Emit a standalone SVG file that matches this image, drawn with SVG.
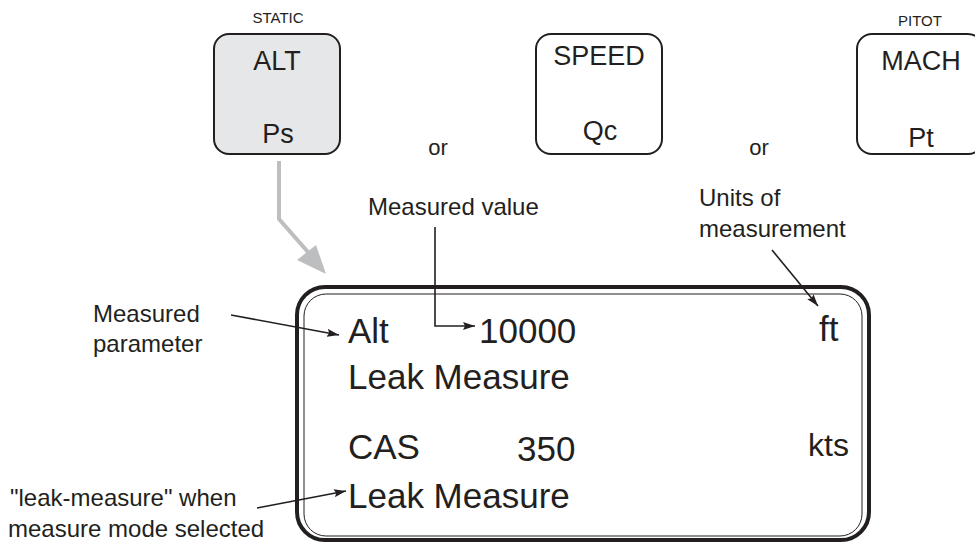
<svg xmlns="http://www.w3.org/2000/svg" width="975" height="542" viewBox="0 0 975 542">
<style>
text{font-family:"Liberation Sans",Arial,sans-serif;fill:#231f20}
.key{fill:#fff;stroke:#231f20;stroke-width:2}
.keyg{fill:#e6e7e8;stroke:#231f20;stroke-width:2}
.kt{font-size:27px;text-anchor:middle}
.sm{font-size:15px;text-anchor:middle}
.or{font-size:22px;text-anchor:middle}
.lbl{font-size:24px}
.disp{font-size:35px}
.con{fill:none;stroke:#231f20;stroke-width:1.6}
</style>
<defs>
<marker id="ah" viewBox="0 0 12 8" refX="12" refY="4" markerWidth="12" markerHeight="8" markerUnits="userSpaceOnUse" orient="auto">
<path d="M0,0 L12,4 L0,8 L2,4 z" fill="#231f20"/>
</marker>
</defs>
<rect width="975" height="542" fill="#fff"/>
<g id="key-alt">
<text class="sm" x="278" y="23">STATIC</text>
<rect class="keyg" x="214" y="34" width="126" height="120" rx="15"/>
<text class="kt" x="277" y="70">ALT</text>
<text class="kt" x="278" y="143">Ps</text>
</g>
<g id="key-speed">
<rect class="key" x="536" y="34" width="126" height="120" rx="15"/>
<text class="kt" x="599" y="65">SPEED</text>
<text class="kt" x="600" y="140">Qc</text>
</g>
<g id="key-mach">
<text class="sm" x="920" y="26">PITOT</text>
<rect class="key" x="857" y="34" width="126" height="120" rx="15"/>
<text class="kt" x="921" y="70">MACH</text>
<text class="kt" x="921" y="147">Pt</text>
</g>
<text class="or" x="438" y="155">or</text>
<text class="or" x="759" y="155">or</text>
<g id="display">
<rect x="297" y="287" width="572" height="253" rx="28" fill="none" stroke="#231f20" stroke-width="4"/>
<rect x="304" y="294" width="558" height="242" rx="22" fill="none" stroke="#231f20" stroke-width="1"/>
<text class="disp" x="348" y="343">Alt</text>
<text class="disp" x="479" y="343">10000</text>
<text class="disp" x="819" y="341">ft</text>
<text class="disp" x="348" y="389">Leak Measure</text>
<text class="disp" x="348" y="459">CAS</text>
<text class="disp" x="517" y="461">350</text>
<text class="disp" x="808" y="456" style="font-size:32px">kts</text>
<text class="disp" x="348" y="508">Leak Measure</text>
</g>
<g id="labels">
<text class="lbl" x="368" y="215">Measured value</text>
<text class="lbl" x="699" y="206">Units of</text>
<text class="lbl" x="699" y="237">measurement</text>
<text class="lbl" x="93" y="322">Measured</text>
<text class="lbl" x="93" y="352">parameter</text>
<text class="lbl" x="10" y="506">"leak-measure" when</text>
<text class="lbl" x="8" y="537">measure mode selected</text>
</g>
<g id="connectors">
<path d="M279,161 V219 L322,268" fill="none" stroke="#bcbec0" stroke-width="4"/>
<path d="M297,260 L326,274 L316,245 z" fill="#bcbec0"/>
<path class="con" d="M435,227 V326 H475" marker-end="url(#ah)"/>
<path class="con" d="M772,250 L818,306" marker-end="url(#ah)"/>
<path class="con" d="M231,315 L339,335" marker-end="url(#ah)"/>
<path class="con" d="M257,508 L346,491" marker-end="url(#ah)"/>
</g>
</svg>
